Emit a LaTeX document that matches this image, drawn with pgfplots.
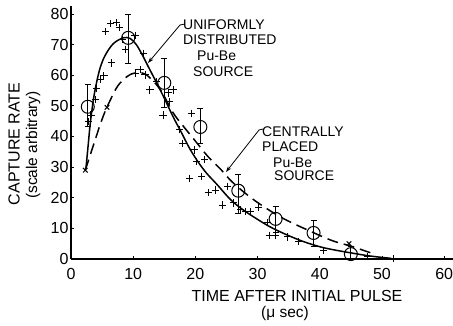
\documentclass[border=0pt]{standalone}
\usepackage{pgfplots}
\pgfplotsset{compat=1.18}
\usepackage{fontspec}
\setmainfont{Liberation Sans}
\usetikzlibrary{arrows.meta}

\begin{document}
\begin{tikzpicture}[x=1pt,y=1pt]
\path[use as bounding box] (0,0) rectangle (453,325);
\begin{axis}[
  at={(71pt,66pt)}, anchor=south west, scale only axis,
  width=382.5pt, height=252.7pt,
  xmin=0, xmax=61.5, ymin=0, ymax=82.5,
  axis lines*=left, axis line style={line width=1.1pt},
  xtick={0,10,...,60}, ytick={0,10,...,80},
  tick align=inside, major tick length=3pt, tick style={line width=0.8pt, black},
  /pgf/number format/assume math mode=true,
  ticklabel style={font=\fontsize{16}{18}\selectfont},
  xticklabel style={yshift=-6pt},
  yticklabel style={xshift=1pt},
  clip=false,
]
% solid curve: uniformly distributed source
\addplot[black, line width=1.5pt, smooth, tension=0.55] coordinates {
(2.4,29.5) (2.8,38) (3.1,44.3) (3.6,52) (4.1,57.5) (4.7,62.5) (5.5,66.5) (6.8,70.3)
(8.4,72.2) (9.5,72) (10.5,70) (11.5,66.5) (12.5,62.5) (13.8,57.4) (15,52.5)
(16.4,46.5) (17.7,41.5) (19.1,36) (20.5,31.5) (21.8,28) (23.4,24.5) (25.6,19.5)
(27.5,16.3) (29.4,13.7) (32,10.5) (34.8,7.8) (37.5,5.6) (40.2,3.9) (42.5,2.9)
(45,2) (48,1) (51.5,0.2)
};
% dashed curve: centrally placed source
\addplot[black, line width=1.5pt, smooth, tension=0.55, dash pattern=on 11pt off 6pt] coordinates {
(2.3,29) (3.1,34) (3.9,39) (4.8,44.5) (5.7,49.2) (7.3,55.8) (8.4,58.5) (9.5,60.2)
(10.5,60.8) (11.5,60.7) (12.5,59.5) (14.4,55.2) (16.4,47.8) (18,43.5) (20,38.5)
(22,33.5) (24.2,29) (26,25) (29.4,19.3) (33.7,13.7) (38,9.5) (42,6) (45,4.2) (48.2,2)
};
% plus points
\addplot[only marks, mark=+, mark size=3.6pt, mark options={line width=1pt, black}] coordinates {
(2.8,44.9) (3.2,47) (3.9,52) (4.1,55.8) (4.7,58.5) (5.3,59.8) (6.5,64)
(5.6,74.2) (6.4,76.8) (7.3,77.1) (7.8,75.5)
(8.3,71.6) (8.8,68.5) (10.3,72.9)
(10.3,60.7) (11.1,61.8) (11.9,60.1) (11.6,67.2)
(12.7,55.2) (13.8,57.9) (15.6,54.2) (16.4,55.2) (15.9,51.4)
(14.8,47) (17.5,42.2) (19.4,47.6) (18,37.8) (19.9,35.6) (20.2,31.8) (21.5,32.4)
(19.1,26.4) (21,26.9)
(22.1,21.6) (23.2,22.5) (24.3,17.6) (25.2,23.8) (26.1,18.3) (27.3,16) (28,15.4)
(28.9,15.4) (30.2,16.7) (31.6,11.8) (31.9,7.8) (32.9,7.8) (34.8,7.2) (36.6,5.6)
(40.6,2.9) (47.7,0.7) (51.8,0.2)
};
% x points
\addplot[only marks, mark=x, mark size=3.2pt, mark options={line width=1pt, black}] coordinates {
(2.3,29) (5.8,49.5) (44.7,5)
};
% circles with error bars
\addplot[only marks, mark=o, mark size=6.5pt, mark options={line width=1pt, black},
  error bars/.cd, y dir=both, y explicit,
  error bar style={line width=0.9pt, black},
  error mark options={rotate=90, mark size=3pt, line width=0.9pt, black}] coordinates {
(2.7,49.7) += (0,7.2) -= (0,6.5)
(9.2,72.2) += (0,7.8) -= (0,8.2)
(15,57.5) += (0,8) -= (0,8)
(20.8,43.1) += (0,6.2) -= (0,5.5)
(26.9,22.3) += (0,5.2) -= (0,7.5)
(32.9,13.1) += (0,4) -= (0,4.3)
(39,8.5) += (0,4) -= (0,4.5)
(45,1.6) += (0,2.6) -= (0,1.6)
};
\end{axis}
% axis titles
\node[rotate=90, font=\fontsize{16}{18}\selectfont] at (14,181) {CAPTURE RATE};
\node[rotate=90, font=\fontsize{15.5}{18}\selectfont] at (33,180) {(scale arbitrary)};
\node[font=\fontsize{16}{18}\selectfont] at (297,29) {TIME AFTER INITIAL PULSE};
\node[font=\fontsize{15.5}{18}\selectfont] at (285,12) {(μ sec)};
% annotations
\begin{scope}[every node/.style={anchor=base west, inner sep=0pt, font=\fontsize{14}{16}\selectfont}]
\node at (183,295) {UNIFORMLY};
\node at (183,280) {DISTRIBUTED};
\node at (197,265) {Pu-Be};
\node at (193,249) {SOURCE};
\node at (262,189) {CENTRALLY};
\node at (262,174) {PLACED};
\node at (273,158) {Pu-Be};
\node at (274,145) {SOURCE};
\end{scope}
\draw[line width=0.8pt, -{Stealth[length=6pt,width=4pt]}] (185,301) -- (180,300) -- (148,262);
\draw[line width=0.8pt, -{Stealth[length=6pt,width=4pt]}] (263,196) -- (259,195) -- (226,153);
\end{tikzpicture}
\end{document}
